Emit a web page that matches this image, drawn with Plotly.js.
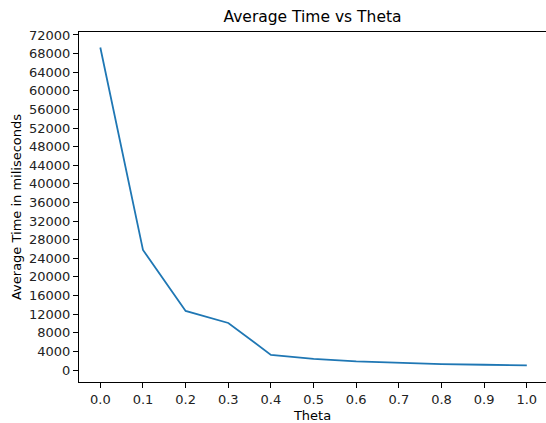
<!DOCTYPE html>
<html>
<head>
<meta charset="utf-8">
<script src="https://cdn.plot.ly/plotly-3.0.1.min.js"></script>
<style>html,body{margin:0;padding:0;background:#fff;}#chart{width:546px;height:423px;}</style>
</head>
<body>
<div id="chart"></div>
<script>
const theta = [0.0, 0.1, 0.2, 0.3, 0.4, 0.5, 0.6, 0.7, 0.8, 0.9, 1.0];
const avgTime = [69300, 25800, 12700, 10100, 3250, 2380, 1850, 1500, 1280, 1130, 990];
const xTickVals = [0.0, 0.1, 0.2, 0.3, 0.4, 0.5, 0.6, 0.7, 0.8, 0.9, 1.0];
const xTickText = ["0.0", "0.1", "0.2", "0.3", "0.4", "0.5", "0.6", "0.7", "0.8", "0.9", "1.0"];
const titleText = "Average Time vs Theta";
const xTitle = "Theta";
const yTitle = "Average Time in miliseconds";

const font = "DejaVu Sans, sans-serif";
const trace = {
  x: theta, y: avgTime, type: "scatter", mode: "lines",
  line: {color: "#1f77b4", width: 1.8}, hoverinfo: "none"
};
const layout = {
  width: 546, height: 423,
  margin: {l: 79, r: 0, t: 32, b: 41, pad: 0},
  paper_bgcolor: "#fff", plot_bgcolor: "#fff",
  showlegend: false,
  font: {family: font, size: 13, color: "#000"},
  title: {text: titleText, font: {family: font, size: 15.5, color: "#000"}, x: 0.5, xref: "paper", y: 1, yref: "paper", yanchor: "bottom", pad: {b: 10}},
  xaxis: {
    range: [-0.05, 1.045], tickvals: xTickVals, ticktext: xTickText,
    showgrid: false, zeroline: false, showline: true, mirror: true, linecolor: "#000", linewidth: 1,
    ticks: "outside", ticklen: 5, tickwidth: 1, tickcolor: "#000",
    tickfont: {family: font, size: 13, color: "#222"},
    title: {text: xTitle, font: {family: font, size: 13, color: "#000"}, standoff: 6},
    automargin: false
  },
  yaxis: {
    range: [-2580, 72640], tickmode: "linear", tick0: 0, dtick: 4000,
    showgrid: false, zeroline: false, showline: true, mirror: false, linecolor: "#000", linewidth: 1,
    ticks: "outside", ticklen: 5, tickwidth: 1, tickcolor: "#000",
    tickformat: "d",
    tickfont: {family: font, size: 13, color: "#222"},
    title: {text: yTitle, font: {family: font, size: 13, color: "#000"}, standoff: 4},
    automargin: false
  }
};
Plotly.newPlot("chart", [trace], layout, {staticPlot: true, displayModeBar: false});
</script>
</body>
</html>
